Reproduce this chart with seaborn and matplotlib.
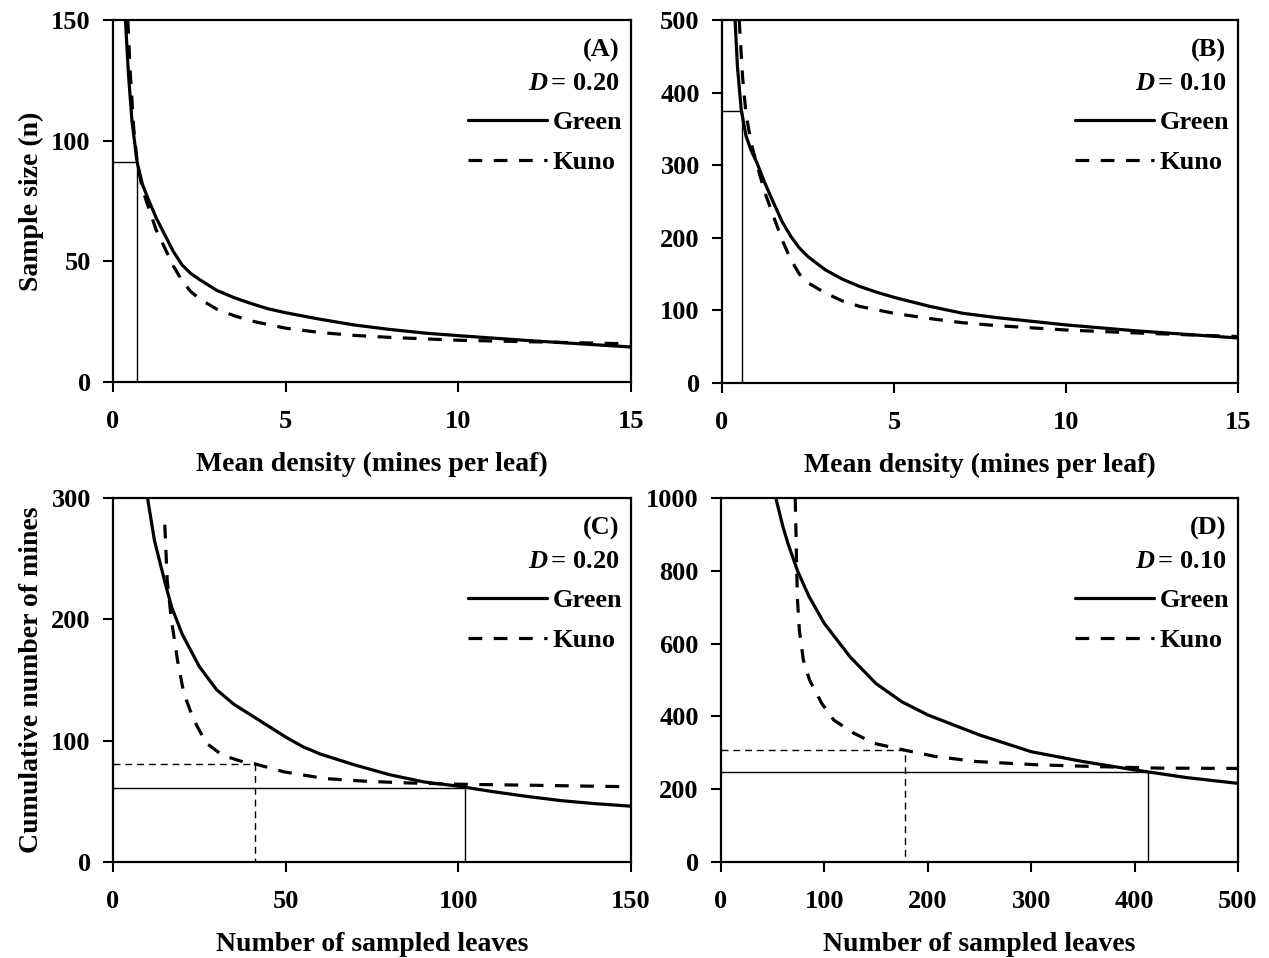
import numpy as np
import pandas as pd
import matplotlib
matplotlib.use("Agg")
import matplotlib.pyplot as plt
import seaborn as sns

# ---- data ----
# (A) sample size vs mean density, D = 0.20
a_m_green = [0.36, 0.45, 0.55, 0.7, 0.85, 1.0, 1.25, 1.5, 1.75, 2.0, 2.25, 2.5, 3.0, 3.5,
             4.0, 4.5, 5.0, 6.0, 7.0, 8.0, 9.0, 10.0, 12.0, 15.0]
a_n_green = [150, 127, 108, 91, 82, 76.5, 68, 61, 54, 48.5, 45, 42.5, 38, 35,
             32.5, 30.3, 28.7, 26, 23.6, 21.8, 20.3, 19.2, 17.2, 14.5]
a_m_kuno = [0.43, 0.5, 0.6, 0.7, 0.85, 1.0, 1.25, 1.5, 1.75, 2.0, 2.25, 2.5, 3.0, 3.5,
            4.0, 5.0, 6.0, 7.0, 8.0, 10.0, 12.0, 15.0]
a_n_kuno = [150, 128, 105, 91, 80, 73.5, 63, 55.5, 48, 42, 37.5, 34.5, 30.2, 27.5,
            25.3, 22.3, 20.5, 19.3, 18.5, 17.3, 16.7, 15.8]
a_mark = (0.7, 91)

# (B) sample size vs mean density, D = 0.10
b_m_green = [0.38, 0.45, 0.56, 0.7, 0.85, 1.0, 1.25, 1.5, 1.75, 2.0, 2.25, 2.5, 3.0, 3.5,
             4.0, 4.5, 5.0, 6.0, 7.0, 8.0, 10.0, 12.0, 15.0]
b_n_green = [500, 435, 376, 340, 320, 305, 275, 248, 222, 202, 186, 174, 156, 143,
             133, 125, 118, 106, 96, 90, 80, 72, 62]
b_m_kuno = [0.5, 0.6, 0.7, 0.85, 1.0, 1.25, 1.5, 1.75, 2.0, 2.25, 2.5, 3.0, 3.5, 4.0,
            5.0, 6.0, 7.0, 8.0, 10.0, 12.0, 15.0]
b_n_kuno = [500, 420, 370, 330, 303, 262, 229, 197, 170, 150, 138, 124, 113, 105.5,
            96, 89, 83, 79, 73, 69, 64]
b_mark = (0.58, 375)

# (C) cumulative mines vs sampled leaves, D = 0.20
c_n_green = [10, 12, 15, 17, 20, 25, 30, 35, 40, 45, 50, 55, 60, 70, 80, 90, 100, 110,
             120, 130, 140, 150]
c_t_green = [300, 265, 231, 210, 188, 161, 142, 130, 121, 112, 103, 95, 89, 80, 72, 66,
             62.5, 58, 54, 50.5, 48, 46]
c_n_kuno = [15.0, 15.7, 16.9, 18.7, 20.5, 23.4, 27, 31.7, 37.6, 41.2, 49.5, 61.3, 73, 85,
            100, 120, 150]
c_t_kuno = [278, 232, 200, 166, 139, 117, 98, 88, 82.6, 80.8, 74.3, 68.8, 66.6, 65.2,
            64.1, 63.3, 62]
c_mark_green = (102, 61)
c_mark_kuno = (41, 81)

# (D) cumulative mines vs sampled leaves, D = 0.10
d_n_green = [53, 60, 65, 74, 85, 100, 125, 150, 175, 200, 250, 300, 350, 400, 450, 500]
d_t_green = [1000, 920, 873, 800, 730, 655, 563, 490, 440, 404, 349, 303, 276, 253, 232, 216]
d_n_kuno = [71.8, 73.8, 75.8, 79.7, 85.6, 97.4, 109, 129, 148, 178, 207, 247, 306, 364,
            423, 500]
d_t_kuno = [1000, 728, 636, 554, 500, 436, 390, 353, 326, 307, 290, 276, 267, 262, 258, 257]
d_mark_green = (413, 247)
d_mark_kuno = (178, 308)

sns.set_theme(style="white")
plt.rcParams["font.family"] = ["Liberation Serif", "DejaVu Serif"]
plt.rcParams["font.weight"] = "bold"
plt.rcParams["text.color"] = "black"
plt.rcParams["axes.labelcolor"] = "black"
plt.rcParams["xtick.color"] = "black"
plt.rcParams["ytick.color"] = "black"
plt.rcParams["mathtext.fontset"] = "custom"
plt.rcParams["mathtext.it"] = "Liberation Serif:italic:bold"
plt.rcParams["mathtext.rm"] = "Liberation Serif:bold"

FS = 19      # ticks / legend
FL = 20      # axis labels
fig = plt.figure(figsize=(12.69, 9.58), dpi=100)
W, H = 1269.0, 958.0


def make_ax(left, right, top, bottom):
    return fig.add_axes([left / W, 1 - bottom / H, (right - left) / W, (bottom - top) / H])


axA = make_ax(113, 631, 20, 382)
axB = make_ax(722, 1238, 20, 383)
axC = make_ax(113, 631, 498, 862)
axD = make_ax(721, 1238, 498, 862)

dash_k = (0, (4.3, 3.6))


def curves(ax, xg, yg, xk, yk):
    dg = pd.DataFrame({"x": xg, "y": yg})
    dk = pd.DataFrame({"x": xk, "y": yk})
    sns.lineplot(data=dg, x="x", y="y", ax=ax, color="black", lw=2.3, label="Green",
                 sort=False, estimator=None)
    sns.lineplot(data=dk, x="x", y="y", ax=ax, color="black", lw=2.3, label="Kuno",
                 sort=False, estimator=None, linestyle=dash_k)


def style(ax, xlim, ylim, xticks, yticks, tag, dval, xlabel, ylabel):
    ax.set_xlim(*xlim)
    ax.set_ylim(*ylim)
    ax.set_xticks(xticks)
    ax.set_yticks(yticks)
    ax.set_xticklabels([str(t) for t in xticks], fontsize=FS, fontweight="bold")
    ax.set_yticklabels([str(t) for t in yticks], fontsize=FS, fontweight="bold")
    ax.tick_params(axis="x", direction="out", length=7, width=1.5, pad=13, colors="black")
    ax.tick_params(axis="y", direction="out", length=7, width=1.5, pad=9, colors="black")
    ax.tick_params(bottom=True, left=True)
    for s in ax.spines.values():
        s.set_visible(True)
        s.set_color("black")
        s.set_linewidth(1.6)
    ax.set_xlabel(xlabel, fontsize=FL, fontweight="bold", labelpad=14, color="black")
    ax.set_ylabel(ylabel, fontsize=FL, fontweight="bold", labelpad=5, color="black")
    h = ax.get_window_extent().height
    ax.text(0.977, 1 - 30 / h, tag, transform=ax.transAxes, ha="right", va="center",
            fontsize=FS, fontweight="bold", color="black")
    ax.text(0.977, 1 - 64 / h, r"$D\,$= " + dval, transform=ax.transAxes, ha="right",
            va="center", fontsize=FS, fontweight="bold", color="black")
    leg = ax.legend(loc="upper right", bbox_to_anchor=(0.983, 1 - 91 / h), frameon=False,
                    handlelength=3.0, handletextpad=0.2, borderaxespad=0, borderpad=0,
                    labelspacing=0.62, prop={"size": FS, "weight": "bold"})
    for t in leg.get_texts():
        t.set_color("black")
    return leg


# (A)
curves(axA, a_m_green, a_n_green, a_m_kuno, a_n_kuno)
axA.plot([0, a_mark[0], a_mark[0]], [a_mark[1], a_mark[1], 0], color="black", lw=1.0)
style(axA, (0, 15), (0, 150), [0, 5, 10, 15], [0, 50, 100, 150], "(A)", "0.20",
      "Mean density (mines per leaf)", "Sample size (n)")

# (B)
curves(axB, b_m_green, b_n_green, b_m_kuno, b_n_kuno)
axB.plot([0, b_mark[0], b_mark[0]], [b_mark[1], b_mark[1], 0], color="black", lw=1.0)
style(axB, (0, 15), (0, 500), [0, 5, 10, 15], [0, 100, 200, 300, 400, 500], "(B)", "0.10",
      "Mean density (mines per leaf)", "")

# (C)
curves(axC, c_n_green, c_t_green, c_n_kuno, c_t_kuno)
axC.plot([0, c_mark_green[0], c_mark_green[0]], [c_mark_green[1], c_mark_green[1], 0],
         color="black", lw=1.0)
axC.plot([0, c_mark_kuno[0], c_mark_kuno[0]], [c_mark_kuno[1], c_mark_kuno[1], 0],
         color="black", lw=1.0, linestyle=(0, (5, 3.5)))
style(axC, (0, 150), (0, 300), [0, 50, 100, 150], [0, 100, 200, 300], "(C)", "0.20",
      "Number of sampled leaves", "Cumulative number of mines")

# (D)
curves(axD, d_n_green, d_t_green, d_n_kuno, d_t_kuno)
axD.plot([0, d_mark_green[0], d_mark_green[0]], [d_mark_green[1], d_mark_green[1], 0],
         color="black", lw=1.0)
axD.plot([0, d_mark_kuno[0], d_mark_kuno[0]], [d_mark_kuno[1], d_mark_kuno[1], 0],
         color="black", lw=1.0, linestyle=(0, (5, 3.5)))
style(axD, (0, 500), (0, 1000), [0, 100, 200, 300, 400, 500],
      [0, 200, 400, 600, 800, 1000], "(D)", "0.10", "Number of sampled leaves", "")

fig.savefig("out.png", dpi=100)
